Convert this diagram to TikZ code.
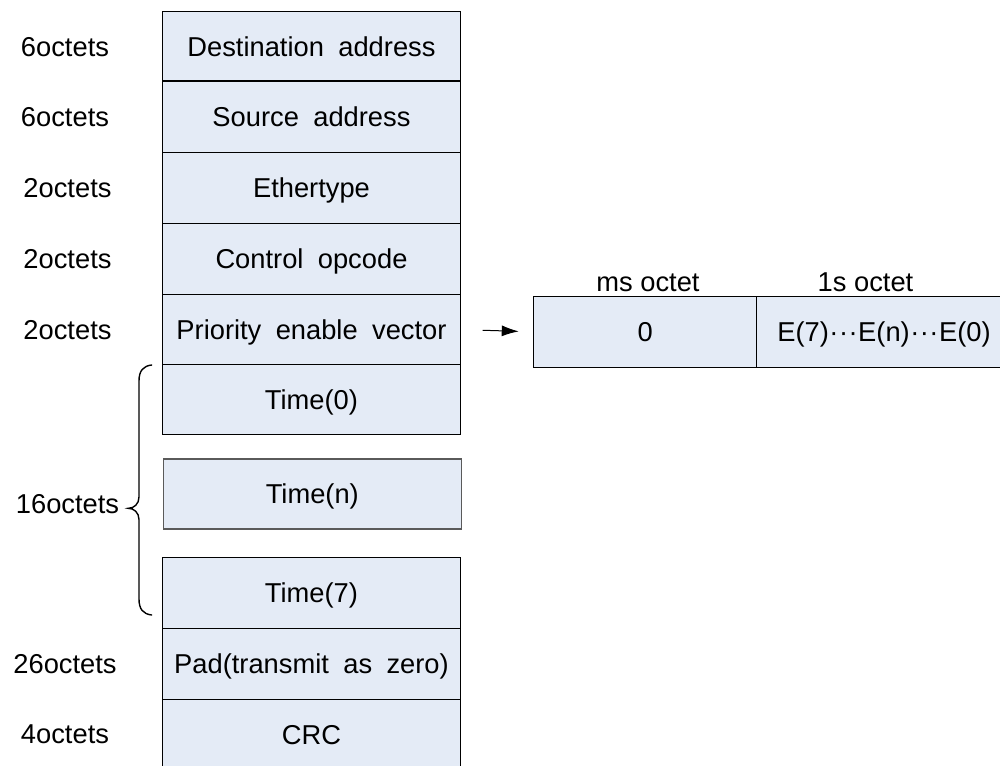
\documentclass[tikz,border=0pt]{standalone}
\usepackage{fontspec}
\setmainfont{Liberation Sans}
\newfontfamily\widefont{Liberation Sans}[WordSpace=1.9]
\usetikzlibrary{arrows.meta}
\definecolor{fieldblue}{RGB}{228,235,246}
\definecolor{grayline}{RGB}{90,90,90}
\tikzset{
  field/.style={draw=black, fill=fieldblue, line width=1.1pt, inner sep=0pt,
    minimum width=297.6pt, text height=19.5pt, text depth=0pt,
    font=\fontsize{27.3}{32}\selectfont\widefont},
  cell/.style={field, font=\fontsize{27.3}{32}\selectfont},
  sizelabel/.style={inner sep=0pt, text height=19.5pt, text depth=0pt,
    font=\fontsize{27.3}{32}\selectfont},
  head/.style={inner sep=0pt, anchor=base, font=\fontsize{27.3}{32}\selectfont},
  bracestyle/.style={line width=1.4pt, line cap=round},
  pointer/.style={line width=1pt, -{Latex[length=17pt,width=11pt]}}
}
\begin{document}
\begin{tikzpicture}[x=1pt,y=-1pt]
\useasboundingbox (0,0) rectangle (1000,765);
\clip (0,0) rectangle (1000,765);
\fill[white] (0,0) rectangle (1000,765);
% frame fields
\node[field, minimum height=69.3pt] (dest) at (311.5,46.35) {Destination address};
\node[field, minimum height=71.3pt] (src)  at (311.5,116.65) {Source address};
\node[field, minimum height=71pt]   (eth)  at (311.5,187.8) {Ethertype};
\node[field, minimum height=71.2pt] (ctrl) at (311.5,258.9) {Control opcode};
\node[field, minimum height=70.2pt] (prio) at (311.5,329.6) {Priority enable vector};
\node[field, minimum height=69.6pt] (t0)   at (311.5,399.5) {Time(0)};
\node[field, draw=grayline, minimum width=298pt, minimum height=70pt] (tn) at (312.3,494) {Time(n)};
\node[field, minimum height=71pt]   (t7)   at (311.5,592.8) {Time(7)};
\node[field, minimum height=71pt]   (pad)  at (311.5,663.8) {Pad(transmit as zero)};
\node[field, minimum height=71pt]   (crc)  at (311.5,734.8) {CRC};
% size labels
\node[sizelabel] (l1) at (65,46.35) {6octets};
\node[sizelabel] (l2) at (65,116.65) {6octets};
\node[sizelabel] (l3) at (67.5,187.8) {2octets};
\node[sizelabel] (l4) at (67.5,258.9) {2octets};
\node[sizelabel] (l5) at (67.5,329.6) {2octets};
\node[sizelabel] (l6) at (67.5,503.3) {16octets};
\node[sizelabel] (l7) at (65,663.8) {26octets};
\node[sizelabel] (l8) at (65,733.3) {4octets};
% brace
\draw[bracestyle] (151.7,365) .. controls (143,366) and (139,371) .. (139,381)
  -- (139,497) .. controls (139,504) and (134,508.3) .. (128.3,508.3)
  .. controls (134,508.3) and (139,512.6) .. (139,519.6)
  -- (139,599) .. controls (139,609) and (143,614) .. (151.7,615);
% priority enable vector detail
\node[cell, minimum width=222.8pt, minimum height=71pt] (ms) at (645.1,331.8) {0};
\node[cell, minimum width=255pt, minimum height=71pt] (ls) at (884,331.8) {E(7)\kern0.5pt·\kern0.5pt·\kern0.5pt·\kern0.5pt E(n)\kern0.5pt·\kern0.5pt·\kern0.5pt·\kern0.5pt E(0)};
\node[head] (msh) at (648,291) {ms octet};
\node[head] (lsh) at (865.5,291) {1s octet};
\draw[pointer, shorten <=21.7pt, shorten >=14.4pt] (prio.east) -- (ms.west);
\end{tikzpicture}
\end{document}
